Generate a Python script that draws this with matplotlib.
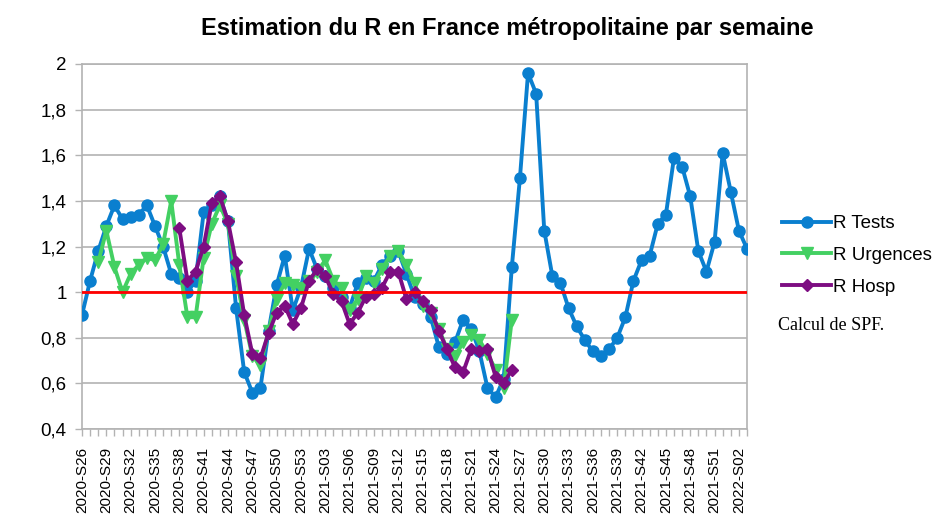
import numpy as np
import matplotlib
matplotlib.use("Agg")
import matplotlib.pyplot as plt
from matplotlib.ticker import FixedLocator, FuncFormatter

nan = np.nan

# weeks 2020-S26 .. 2022-S03
weeks = ([f"2020-S{w:02d}" for w in range(26, 54)]
         + [f"2021-S{w:02d}" for w in range(1, 53)]
         + [f"2022-S{w:02d}" for w in range(1, 4)])

r_tests = [0.90, 1.05, 1.18, 1.29, 1.38, 1.32, 1.33, 1.34, 1.38, 1.29,
           1.20, 1.08, 1.06, 1.00, 1.05, 1.35, 1.38, 1.42, 1.31, 0.93,
           0.65, 0.56, 0.58, 0.83, 1.03, 1.16, 0.92, 1.02, 1.19, 1.10,
           1.07, 1.02, 0.98, 0.93, 1.04, 1.06, 1.05, 1.12, 1.16, 1.18,
           1.08, 0.98, 0.95, 0.89, 0.76, 0.73, 0.78, 0.88, 0.84, 0.74,
           0.58, 0.54, 0.62, 1.11, 1.50, 1.96, 1.87, 1.27, 1.07, 1.04,
           0.93, 0.85, 0.79, 0.74, 0.72, 0.75, 0.80, 0.89, 1.05, 1.14,
           1.16, 1.30, 1.34, 1.59, 1.55, 1.42, 1.18, 1.09, 1.22, 1.61,
           1.44, 1.27, 1.19]

r_urgences = [nan, nan, 1.13, 1.27, 1.11, 1.00, 1.08, 1.12, 1.15, 1.14,
              1.21, 1.40, 1.12, 0.89, 0.89, 1.15, 1.30, 1.38, 1.30, 1.07,
              0.88, 0.72, 0.68, 0.83, 0.97, 1.04, 1.03, 1.02, 1.05, 1.09,
              1.14, 1.05, 1.02, 0.92, 0.97, 1.07, 1.04, 1.10, 1.16, 1.18,
              1.12, 1.04, 0.94, 0.91, 0.84, 0.75, 0.72, 0.78, 0.81, 0.79,
              0.73, 0.66, 0.58, 0.88] + [nan] * 29

r_hosp = [nan] * 12 + [1.28, 1.05, 1.09, 1.20, 1.39, 1.42, 1.31, 1.13,
                       0.90, 0.73, 0.71, 0.82, 0.91, 0.94, 0.86, 0.93, 1.05, 1.10,
                       1.07, 0.99, 0.96, 0.86, 0.91, 0.98, 0.99, 1.02, 1.09, 1.09,
                       0.97, 1.00, 0.96, 0.92, 0.83, 0.75, 0.67, 0.65, 0.75, 0.74,
                       0.75, 0.63, 0.60, 0.66] + [nan] * 29

seuil = [1.0] * len(weeks)

y_ticks = [0.4, 0.6, 0.8, 1.0, 1.2, 1.4, 1.6, 1.8, 2.0]

x = np.arange(len(weeks))

fig = plt.figure(figsize=(9.51, 5.22), dpi=100)
ax = fig.add_axes([82 / 951, 1 - 429 / 522, (747 - 82) / 951, (429 - 64) / 522])

ax.plot(x, r_tests, color="#0a7fcf", lw=2.8, marker="o", ms=8, label="R Tests", zorder=3)
ax.plot(x, r_urgences, color="#43d062", lw=2.8, marker="v", ms=8.5, label="R Urgences", zorder=4)
ax.plot(x, r_hosp, color="#7d0d82", lw=2.8, marker="D", ms=6, label="R Hosp", zorder=5)
ax.plot(x, seuil, color="#ff0000", lw=2, zorder=6)

ax.set_xlim(0, len(weeks) - 1)
ax.set_ylim(0.4, 2.0)

ax.yaxis.set_major_locator(FixedLocator(y_ticks))
ax.yaxis.set_major_formatter(FuncFormatter(lambda v, p: f"{v:g}".replace(".", ",")))
ax.set_xticks(x)
ax.set_xticklabels([w if i % 3 == 0 else "" for i, w in enumerate(weeks)],
                   rotation=90, fontsize=11, family="Liberation Sans")
for t in ax.get_yticklabels():
    t.set_family("Liberation Sans")
    t.set_fontsize(13.5)

ax.grid(axis="y", color="#b3b3b3", lw=1.2)
ax.set_axisbelow(True)
for s in ax.spines.values():
    s.set_color("#b3b3b3")
    s.set_linewidth(1.2)
ax.tick_params(axis="both", color="#b3b3b3", length=5, width=1)
ax.tick_params(axis="y", pad=6)
ax.tick_params(axis="x", pad=8)

ax.legend(loc="upper left", bbox_to_anchor=(1.042, 0.607), frameon=False,
          prop={"family": "Liberation Sans", "size": 13.5},
          handlelength=2.6, handletextpad=0.12, labelspacing=0.78, borderaxespad=0)

fig.text(0.533, 0.945, "Estimation du R en France métropolitaine par semaine",
         ha="center", va="center", fontsize=17, fontweight="bold", family="Liberation Sans")
fig.text(778 / 951, 1 - 326 / 522, "Calcul de SPF.", ha="left", va="center",
         fontsize=13, family="Liberation Serif")

fig.savefig("out.png", dpi=100)
